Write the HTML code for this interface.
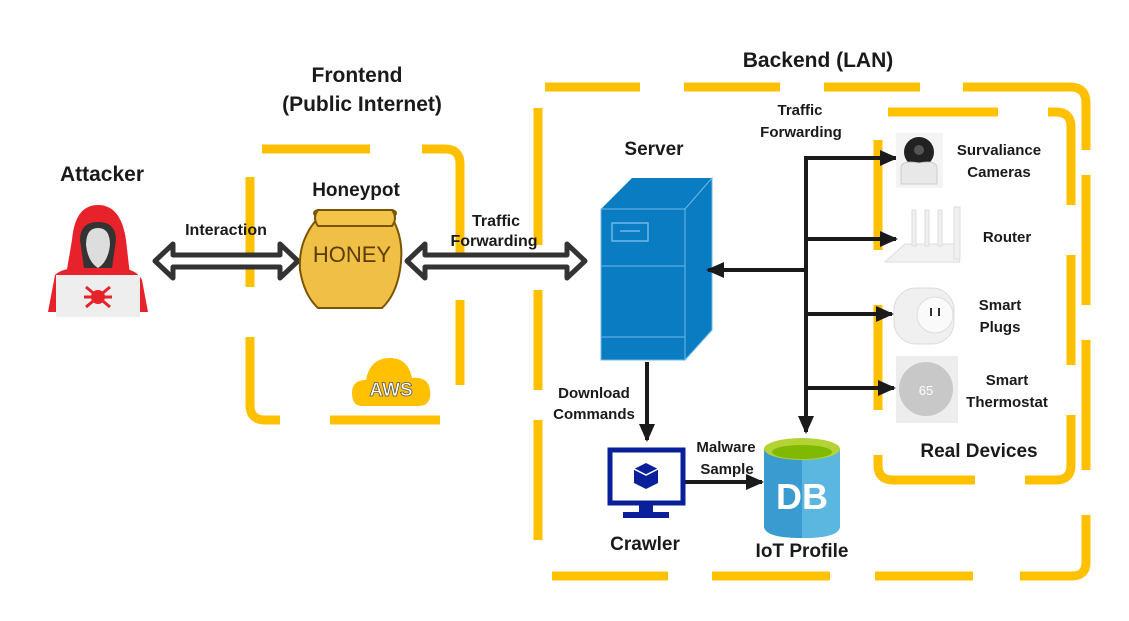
<!DOCTYPE html>
<html><head><meta charset="utf-8"><style>
body{margin:0;background:#fff;}
svg{display:block;font-family:"Liberation Sans",sans-serif;font-weight:bold;}
</style></head><body>
<svg width="1129" height="621" viewBox="0 0 1129 621" xmlns="http://www.w3.org/2000/svg">
<defs>
<marker id="ah" markerWidth="18" markerHeight="18" refX="16" refY="9" orient="auto" markerUnits="userSpaceOnUse"><path d="M0,1 L18,9 L0,17 z" fill="#1a1a1a"/></marker>
</defs>
<g fill="none" stroke="#FFC000" stroke-width="9">
<path d="M262,149 H370 M422,149 H445 Q460,149 460,164 V255 M460,300 V385"/>
<path d="M250,177 V287 M250,337 V405 Q250,420 265,420 H280 M330,420 H440"/>
<path d="M545,87 H640 M684,87 H780 M824,87 H920 M963,87 H1070 Q1086,87 1086,103 V150 M1086,175 V305 M1086,340 V470 M1086,515 V562 Q1086,576 1072,576 H1020 M973,576 H875 M830,576 H712 M668,576 H552"/>
<path d="M538,108 V245 M538,290 V390 M538,420 V540"/>
<path d="M888,112 H998 M1048,112 H1056 Q1071,112 1071,127 V205 M1071,255 V365 M1071,415 V465 Q1071,480 1056,480 H1025 M975,480 H893 Q878,480 878,465 V455 M878,410 V305 M878,250 V140"/>
</g>
<g fill="#1a1a1a" text-anchor="middle">
<text x="102" y="181" font-size="21">Attacker</text>
<text x="357" y="82" font-size="21">Frontend</text>
<text x="362" y="111" font-size="21">(Public Internet)</text>
<text x="356" y="196" font-size="19">Honeypot</text>
<text x="226" y="235" font-size="16">Interaction</text>
<text x="496" y="226" font-size="16">Traffic</text>
<text x="494" y="246" font-size="16">Forwarding</text>
<text x="818" y="67" font-size="21">Backend (LAN)</text>
<text x="800" y="115" font-size="15">Traffic</text>
<text x="801" y="137" font-size="15">Forwarding</text>
<text x="654" y="155" font-size="19">Server</text>
<text x="594" y="398" font-size="15">Download</text>
<text x="594" y="419" font-size="15">Commands</text>
<text x="726" y="452" font-size="15">Malware</text>
<text x="727" y="474" font-size="15">Sample</text>
<text x="645" y="550" font-size="19">Crawler</text>
<text x="802" y="557" font-size="19">IoT Profile</text>
<text x="999" y="155" font-size="15">Survaliance</text>
<text x="999" y="177" font-size="15">Cameras</text>
<text x="1007" y="242" font-size="15">Router</text>
<text x="1000" y="310" font-size="15">Smart</text>
<text x="1000" y="332" font-size="15">Plugs</text>
<text x="1007" y="385" font-size="15">Smart</text>
<text x="1007" y="407" font-size="15">Thermostat</text>
<text x="979" y="457" font-size="19">Real Devices</text>
</g>
<g fill="#fff" stroke="#333" stroke-width="5" stroke-linejoin="round">
<path d="M155,261 L173,244 V255 H280 V244 L298,261 L280,278 V267 H173 V278 Z"/>
<path d="M407,261 L425,244 V255 H567 V244 L585,261 L567,278 V267 H425 V278 Z"/>
</g>
<g>
<path d="M72,240 Q75,205 98,205 Q121,205 126,240 L130,275 H66 Z" fill="#e8222b"/>
<path d="M80,240 Q80,222 98,222 Q116,222 116,240 L112,268 H84 Z" fill="#333"/>
<path d="M86,245 Q86,228 98,228 Q110,228 110,245 Q108,262 98,268 Q88,262 86,245Z" fill="#ddd"/>
<path d="M55,275 Q62,268 80,268 H116 Q136,268 142,280 L148,312 H48 Z" fill="#e8222b"/>
<rect x="56" y="275" width="84" height="42" fill="#eee"/>
<circle cx="98" cy="297" r="7" fill="#e8222b"/>
<path d="M86,287 L110,307 M110,287 L86,307 M84,297 H112" stroke="#e8222b" stroke-width="3"/>
</g>
<g>
<path d="M318,218 Q310,212 318,210 H392 Q400,212 392,218 Q405,240 400,270 Q396,295 382,308 H318 Q304,295 300,270 Q298,240 318,218Z" fill="#f0bf45" stroke="#7a5500" stroke-width="2"/>
<path d="M318,210 H392 Q398,218 392,226 H318 Q312,218 318,210Z" fill="#f3c44a" stroke="#7a5500" stroke-width="2"/>
<text x="352" y="262" font-size="22" font-weight="normal" fill="#5a3d00" text-anchor="middle">HONEY</text>
</g>
<g>
<path d="M362,406 Q352,406 352,393 Q352,380 366,380 Q370,358 390,358 Q408,358 412,378 Q428,376 430,390 Q432,406 418,406Z" fill="#FFC000"/>
<text x="391" y="396" font-size="19" fill="#fff" stroke="#555" stroke-width="0.8" text-anchor="middle">AWS</text>
</g>
<g>
<polygon points="601,209 632,178 712,178 685,209" fill="#0a7cc2"/>
<polygon points="685,209 712,178 712,330 685,360" fill="#0a7cc2" stroke="#6fb8e8" stroke-width="1"/>
<rect x="601" y="209" width="84" height="151" fill="#0a7cc2" stroke="#6fb8e8" stroke-width="1"/>
<rect x="612" y="223" width="36" height="18" fill="none" stroke="#6fb8e8" stroke-width="1.5"/>
<line x1="620" y1="231" x2="640" y2="231" stroke="#6fb8e8" stroke-width="1.5"/>
<line x1="601" y1="266" x2="685" y2="266" stroke="#6fb8e8"/>
<line x1="601" y1="337" x2="685" y2="337" stroke="#6fb8e8"/>
</g>
<g stroke="#1a1a1a" stroke-width="4" fill="none">
<line x1="647" y1="362" x2="647" y2="440" marker-end="url(#ah)"/>
<line x1="684" y1="482" x2="762" y2="482" marker-end="url(#ah)"/>
<line x1="806" y1="270" x2="708" y2="270" marker-end="url(#ah)"/>
<path d="M806,158 V432" marker-end="url(#ah)"/>
<line x1="804" y1="158" x2="896" y2="158" marker-end="url(#ah)"/>
<line x1="806" y1="239" x2="896" y2="239" marker-end="url(#ah)"/>
<line x1="806" y1="314" x2="892" y2="314" marker-end="url(#ah)"/>
<line x1="806" y1="388" x2="894" y2="388" marker-end="url(#ah)"/>
</g>
<g>
<rect x="610" y="450" width="73" height="53" fill="#fff" stroke="#0a1f9a" stroke-width="5"/>
<rect x="639" y="503" width="14" height="10" fill="#0a1f9a"/>
<rect x="623" y="512" width="46" height="6" fill="#0a1f9a"/>
<polygon points="646,463 658,469 658,483 646,489 634,483 634,469" fill="#0a1f9a"/>
<polyline points="634,469 646,475 658,469 M646,475 V489" fill="none" stroke="#fff" stroke-width="1.5"/>
</g>
<g>
<path d="M764,449 V526 Q764,538 802,538 Q840,538 840,526 V449Z" fill="#3a9bd0"/>
<path d="M802,449 V538 Q840,538 840,526 V449Z" fill="#5bb6e0"/>
<ellipse cx="802" cy="449" rx="38" ry="11" fill="#b2d235"/>
<ellipse cx="802" cy="452" rx="30" ry="7" fill="#7fba00"/>
<text x="802" y="509" font-size="36" fill="#fff" text-anchor="middle">DB</text>
</g>
<g>
<rect x="896" y="133" width="47" height="55" fill="#f4f4f4"/>
<circle cx="919" cy="152" r="15" fill="#222"/>
<circle cx="919" cy="150" r="5" fill="#555"/>
<path d="M901,168 Q901,160 919,163 Q937,160 937,168 V184 H901Z" fill="#e8e8e8" stroke="#ccc"/>
<path d="M885,262 L905,244 H955 L960,262Z" fill="#f2f2f2" stroke="#ddd"/>
<rect x="912" y="210" width="4" height="36" fill="#f0f0f0" stroke="#ddd"/>
<rect x="925" y="210" width="4" height="36" fill="#f0f0f0" stroke="#ddd"/>
<rect x="938" y="210" width="4" height="36" fill="#f0f0f0" stroke="#ddd"/>
<rect x="954" y="207" width="6" height="52" fill="#f0f0f0" stroke="#ddd"/>
<rect x="894" y="288" width="60" height="56" rx="22" fill="#f0f0f0" stroke="#ddd"/>
<circle cx="935" cy="315" r="18" fill="#fafafa" stroke="#ddd"/>
<rect x="930" y="308" width="2" height="8" fill="#333"/><rect x="938" y="308" width="2" height="8" fill="#333"/>
<rect x="896" y="356" width="62" height="67" fill="#ededed"/>
<circle cx="926" cy="389" r="28" fill="#c8c8c8" stroke="#eee" stroke-width="2"/>
<text x="926" y="395" font-size="13" font-weight="normal" fill="#fff" text-anchor="middle">65</text>
</g>
</svg>
</body></html>
